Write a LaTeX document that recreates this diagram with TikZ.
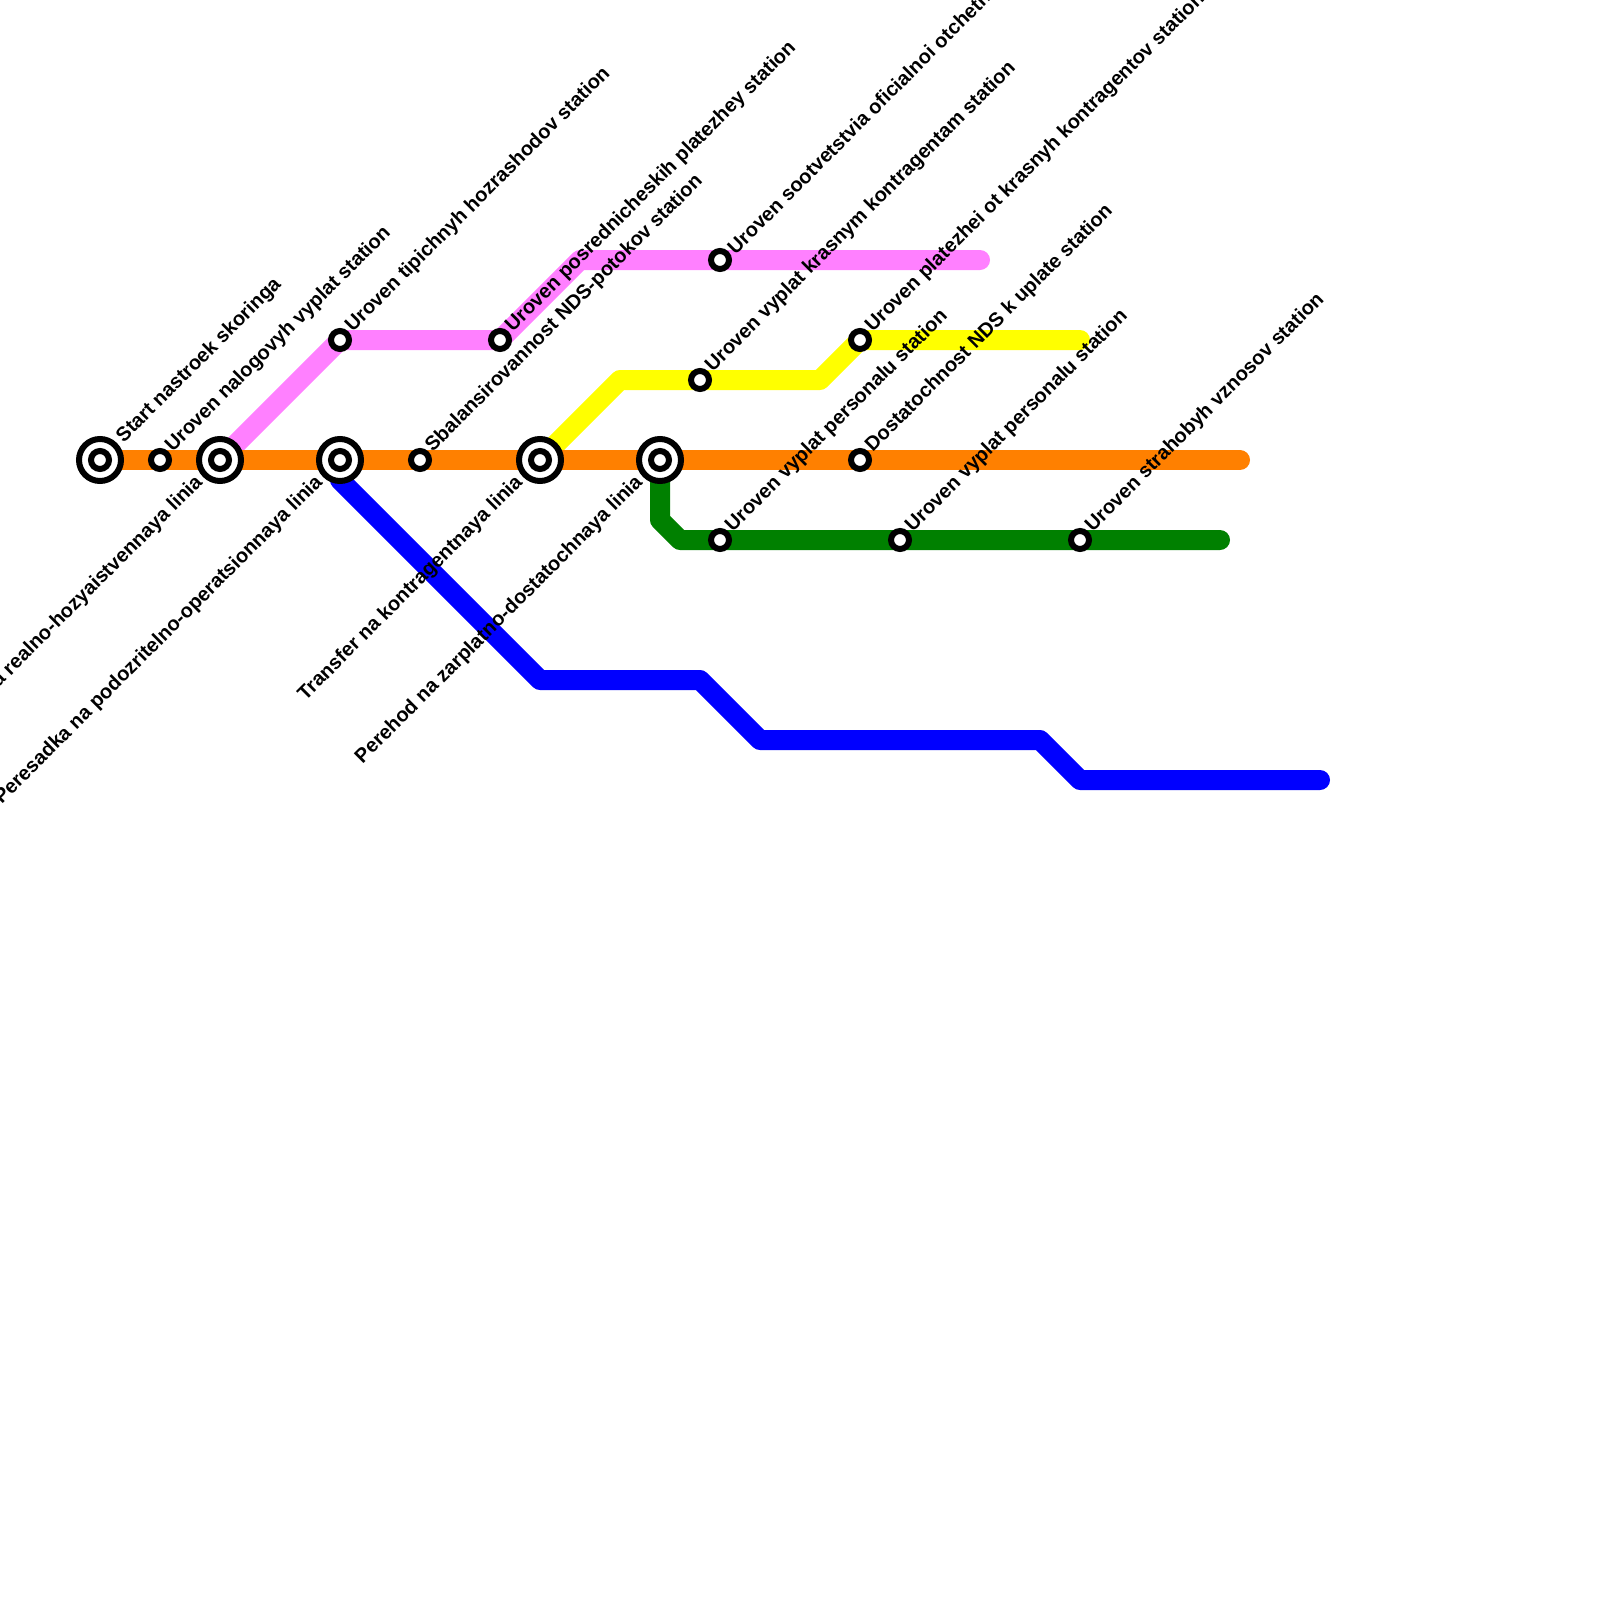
\documentclass[tikz,border=0pt]{standalone}
\usepackage{fontspec}
\setmainfont{Liberation Sans}
\begin{document}
\begin{tikzpicture}[x=1pt,y=-1pt,
  metroline/.style={line width=20pt,line cap=round,line join=round},
  stationsmall/.style={circle,draw=black,fill=white,line width=6pt,minimum size=18pt,inner sep=0pt,outer sep=0pt},
  stationout/.style={circle,draw=black,fill=white,line width=6pt,minimum size=42pt,inner sep=0pt,outer sep=0pt},
  uplabel/.style={font=\fontsize{20}{24}\selectfont\bfseries,rotate=45,anchor=south west,inner sep=0pt,text=black,xshift=1.2pt},
  downlabel/.style={font=\fontsize{20}{24}\selectfont\bfseries,rotate=45,anchor=north east,inner sep=0pt,text=black}]
\useasboundingbox (0,0) rectangle (1600,1600);
\fill[white] (0,0) rectangle (1600,1600);
\definecolor{pinkline}{RGB}{255,128,255}
\definecolor{yellowline}{RGB}{255,255,0}
\definecolor{greenline}{RGB}{0,128,0}
\definecolor{blueline}{RGB}{0,0,255}
\definecolor{orangeline}{RGB}{255,128,0}
\coordinate (a0) at (100,460);\coordinate (a1) at (160,460);\coordinate (a2) at (220,460);
\coordinate (a3) at (340,460);\coordinate (a4) at (420,460);\coordinate (a5) at (540,460);
\coordinate (a6) at (660,460);\coordinate (a7) at (860,460);\coordinate (aend) at (1240,460);
\coordinate (p1) at (340,340);\coordinate (p2) at (500,340);\coordinate (p3) at (580,260);\coordinate (p4) at (720,260);\coordinate (pend) at (980,260);
\coordinate (y1) at (620,380);\coordinate (y2) at (700,380);\coordinate (y3) at (820,380);\coordinate (y4) at (860,340);\coordinate (yend) at (1080,340);
\coordinate (g1) at (660,520);\coordinate (g2) at (680,540);\coordinate (g3) at (720,540);\coordinate (g4) at (900,540);\coordinate (g5) at (1080,540);\coordinate (gend) at (1220,540);
\coordinate (b1) at (340,480);\coordinate (b2) at (540,680);\coordinate (b3) at (700,680);\coordinate (b4) at (760,740);\coordinate (b5) at (1040,740);\coordinate (b6) at (1080,780);\coordinate (bend) at (1320,780);
\draw[metroline,draw=pinkline] (a2)--(p1)--(p2)--(p3)--(pend);
\draw[metroline,draw=yellowline] (a5)--(y1)--(y3)--(y4)--(yend);
\draw[metroline,draw=greenline] (a6)--(g1)--(g2)--(gend);
\draw[metroline,draw=blueline] (a3)--(b1)--(b2)--(b3)--(b4)--(b5)--(b6)--(bend);
\draw[metroline,draw=orangeline] (a0)--(aend);
\foreach \c in {a0,a2,a3,a5,a6}{\node[stationout] at (\c) {};\node[stationsmall] at (\c) {};}
\foreach \c in {a1,a4,a7,p1,p2,p4,y2,y4,g3,g4,g5}{\node[stationsmall] at (\c) {};}
\node[uplabel] (l0) at (126,447.5) {Start nastroek skoringa};
\node[uplabel] (l1) at (175,456.5) {Uroven nalogovyh vyplat station};
\node[uplabel] (l2) at (355,336.5) {Uroven tipichnyh hozrashodov station};
\node[uplabel] (l3) at (515,336.5) {Uroven posrednicheskih platezhey station};
\node[uplabel] (l4) at (735,256.5) {Uroven sootvetstvia oficialnoi otchetnosti station};
\node[uplabel] (l5) at (435,456.5) {Sbalansirovannost NDS-potokov station};
\node[uplabel] (l6) at (715,376.5) {Uroven vyplat krasnym kontragentam station};
\node[uplabel] (l7) at (875,336.5) {Uroven platezhei ot krasnyh kontragentov station};
\node[uplabel] (l8) at (875,456.5) {Dostatochnost NDS k uplate station};
\node[uplabel] (l9) at (735,536.5) {Uroven vyplat personalu station};
\node[uplabel] (l10) at (915,536.5) {Uroven vyplat personalu station};
\node[uplabel] (l11) at (1095,536.5) {Uroven strahobyh vznosov station};
\node[downlabel] (d0) at (193,473) {Peresadka na realno-hozyaistvennaya linia};
\node[downlabel] (d1) at (313,473) {Peresadka na podozritelno-operatsionnaya linia};
\node[downlabel] (d2) at (513,473) {Transfer na kontragentnaya linia};
\node[downlabel] (d3) at (633,473) {Perehod na zarplatno-dostatochnaya linia};
\end{tikzpicture}
\end{document}
